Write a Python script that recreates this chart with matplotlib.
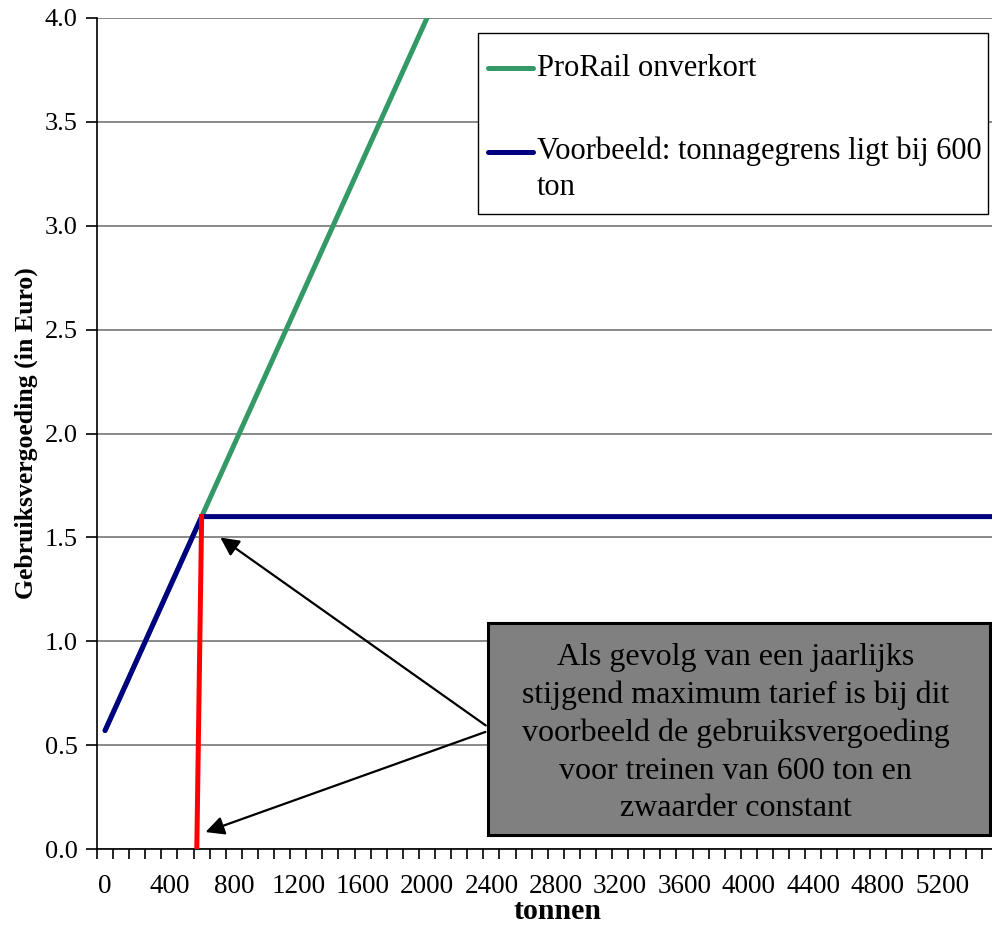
import numpy as np
import matplotlib
matplotlib.use("Agg")
import matplotlib.pyplot as plt
from matplotlib.patches import Rectangle

plt.rcParams['font.family'] = ['Liberation Serif', 'DejaVu Serif']

# data (tonnen -> gebruiksvergoeding in euro)
prorail_x = [0, 600, 2000]
prorail_y = [0.57, 1.60, 4.00]
voorbeeld_x = [0, 600, 5600]
voorbeeld_y = [0.57, 1.60, 1.60]
grens_x = [570, 600]
grens_y = [0.00, 1.60]

x_labels = list(range(0, 5201, 400))
y_ticks = np.arange(0, 4.01, 0.5)

label_prorail = 'ProRail onverkort'
label_voorbeeld = 'Voorbeeld: tonnagegrens ligt bij 600\nton'
note = ('Als gevolg van een jaarlijks\nstijgend maximum tarief is bij dit\n'
        'voorbeeld de gebruiksvergoeding\nvoor treinen van 600 ton en\nzwaarder constant')

green = '#339966'
navy = '#000080'

fig = plt.figure(figsize=(9.92, 9.26), dpi=100)
ax = fig.add_axes([97 / 992, 77 / 926, 895 / 992, 831 / 926])

ax.plot(prorail_x, prorail_y, color=green, lw=3.6, solid_capstyle='round', zorder=3)
ax.plot(voorbeeld_x, voorbeeld_y, color=navy, lw=3.6, solid_capstyle='round', zorder=4)
ax.plot(grens_x, grens_y, color='#ff0000', lw=3.6, zorder=5)

ax.set_xlim(-50, 5510)
ax.set_ylim(0, 4.0)

ax.set_yticks(y_ticks)
ax.set_yticklabels([f'{v:.1f}' for v in y_ticks])
ax.set_xticks(x_labels)
ax.set_xticklabels([str(v) for v in x_labels])
ax.set_xticks(np.arange(-50, 5511, 100), minor=True)
ax.tick_params(axis='y', length=8, width=1.2, pad=6, labelsize=19)
ax.tick_params(axis='x', which='major', length=0, pad=18, labelsize=19.5)
ax.tick_params(axis='x', which='minor', length=7, width=1.2)

ax.grid(axis='y', color='#808080', lw=1.3)
ax.set_axisbelow(True)
for s in ['top', 'right']:
    ax.spines[s].set_visible(False)
ax.spines['left'].set_linewidth(1.2)
ax.spines['bottom'].set_linewidth(1.2)

ax.set_xlabel('tonnen', fontsize=21.5, fontweight='bold', va='baseline')
ax.xaxis.set_label_coords(0.514, -0.0842)
ax.set_ylabel('Gebruiksvergoeding (in Euro)', fontsize=18.5, fontweight='bold', labelpad=5)

# legend drawn by hand so the handle sits on the first line of the label
ax.add_patch(Rectangle((0.4257, 0.7641), 0.5698, 0.2178, transform=ax.transAxes,
                       facecolor='white', edgecolor='black', lw=1.0, zorder=6))
ax.plot([0.4369, 0.4872], [0.9398, 0.9398], transform=ax.transAxes, color=green,
        lw=3.6, solid_capstyle='round', zorder=7, clip_on=False)
ax.plot([0.4369, 0.4872], [0.8387, 0.8387], transform=ax.transAxes, color=navy,
        lw=3.6, solid_capstyle='round', zorder=7, clip_on=False)
ax.text(0.4916, 0.9398, label_prorail, transform=ax.transAxes, ha='left',
        va='center', fontsize=22, zorder=7)
ax.text(0.4916, 0.8177, label_voorbeeld, transform=ax.transAxes, ha='left',
        va='center', fontsize=22, linespacing=1.32, zorder=7)

# annotation box with arrows
ax.add_patch(Rectangle((0.4369, 0.0169), 0.5609, 0.2551, transform=ax.transAxes,
                       facecolor='#808080', edgecolor='black', lw=2.2, zorder=6))
ax.text(0.7134, 0.1396, note, transform=ax.transAxes, ha='center', va='center',
        fontsize=23, linespacing=1.39, zorder=7)
arrow = dict(arrowstyle='-|>', color='black', lw=1.6, mutation_scale=28)
ax.annotate('', xy=(702, 1.507), xytext=(2379, 0.587), arrowprops=arrow, zorder=6)
ax.annotate('', xy=(608, 0.077), xytext=(2379, 0.568), arrowprops=arrow, zorder=6)

fig.savefig('out.png', dpi=100)
